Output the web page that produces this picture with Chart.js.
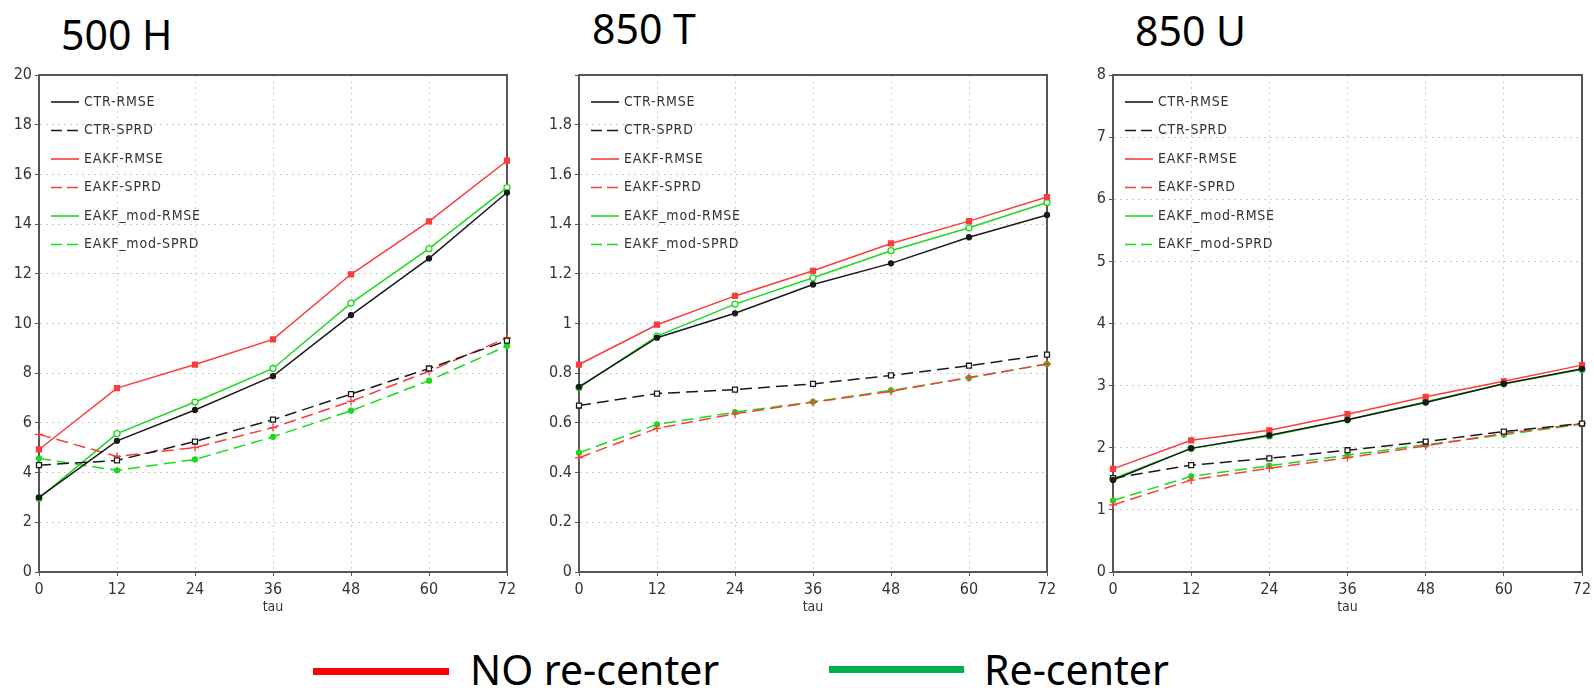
<!DOCTYPE html>
<html>
<head>
<meta charset="utf-8">
<script src="https://cdn.jsdelivr.net/npm/chart.js@4.4.1/dist/chart.umd.min.js"></script>
<style>
	body { margin: 0; width: 1594px; height: 688px; background: #fff; position: relative; overflow: hidden; font-family: "Noto Sans", sans-serif; }
	.title { position: absolute; font-size: 41px; line-height: 1; color: #000; white-space: nowrap; }
	.panel { position: absolute; top: 50px; }
	.key { position: absolute; height: 7px; }
	.keytext { position: absolute; font-size: 41px; line-height: 1; color: #000; white-space: nowrap; }
</style>
</head>
<body>
<div class="title" style="left:61px;top:14px">500 H</div>
<div class="title" style="left:592px;top:8px">850 T</div>
<div class="title" style="left:1135px;top:10px">850 U</div>

<div class="panel" style="left:0px"><canvas id="c500h" width="527" height="568"></canvas></div>
<div class="panel" style="left:540px"><canvas id="c850t" width="527" height="568"></canvas></div>
<div class="panel" style="left:1074px"><canvas id="c850u" width="528" height="568"></canvas></div>

<div class="key" style="left:313px;top:668px;width:136px;background:#ff0000"></div>
<div class="keytext" style="left:470px;top:649px">NO re-center</div>
<div class="key" style="left:829px;top:666px;width:135px;background:#00b050"></div>
<div class="keytext" style="left:984px;top:649px">Re-center</div>

<script>
	const tau = ["0", "12", "24", "36", "48", "60", "72"];
	const seriesNames = ["CTR-RMSE", "CTR-SPRD", "EAKF-RMSE", "EAKF-SPRD", "EAKF_mod-RMSE", "EAKF_mod-SPRD"];

	// 500 H
	const h500CtrRmse = [3.0, 5.28, 6.52, 7.88, 10.34, 12.62, 15.27];
	const h500CtrSprd = [4.3, 4.49, 5.25, 6.13, 7.16, 8.19, 9.31];
	const h500EakfRmse = [4.93, 7.4, 8.35, 9.36, 11.98, 14.11, 16.55];
	const h500EakfSprd = [5.54, 4.65, 5.01, 5.81, 6.87, 8.08, 9.42];
	const h500ModRmse = [2.97, 5.57, 6.84, 8.19, 10.82, 13.01, 15.47];
	const h500ModSprd = [4.57, 4.09, 4.53, 5.44, 6.49, 7.7, 9.1];

	// 850 T
	const t850CtrRmse = [0.745, 0.943, 1.041, 1.157, 1.242, 1.347, 1.437];
	const t850CtrSprd = [0.67, 0.718, 0.734, 0.757, 0.791, 0.83, 0.875];
	const t850EakfRmse = [0.835, 0.995, 1.111, 1.212, 1.322, 1.412, 1.509];
	const t850EakfSprd = [0.46, 0.578, 0.637, 0.683, 0.727, 0.783, 0.837];
	const t850ModRmse = [0.742, 0.949, 1.078, 1.184, 1.293, 1.385, 1.487];
	const t850ModSprd = [0.48, 0.594, 0.643, 0.685, 0.731, 0.781, 0.837];

	// 850 U
	const u850CtrRmse = [1.48, 1.99, 2.2, 2.45, 2.73, 3.03, 3.27];
	const u850CtrSprd = [1.51, 1.72, 1.83, 1.96, 2.1, 2.26, 2.39];
	const u850EakfRmse = [1.66, 2.12, 2.28, 2.54, 2.82, 3.07, 3.33];
	const u850EakfSprd = [1.08, 1.48, 1.67, 1.84, 2.03, 2.23, 2.39];
	const u850ModRmse = [1.5, 1.99, 2.19, 2.45, 2.74, 3.03, 3.26];
	const u850ModSprd = [1.15, 1.54, 1.71, 1.88, 2.05, 2.21, 2.38];

	const fontFamily = '"DejaVu Sans Condensed", "Liberation Sans Narrow", "DejaVu Sans", sans-serif';
	const black = "#1a1a1a";
	const red = "#fa3c3c";
	const green = "#1ed81e";
	const dash = [12, 6];

	const seriesStyle = [
		{ color: black, dash: [], point: "circle", fill: black, r: 2.5 },
		{ color: black, dash: dash, point: "rect", fill: "#fff", r: 3.5 },
		{ color: red, dash: [], point: "rect", fill: red, r: 3.5 },
		{ color: red, dash: dash, point: "cross", fill: red, r: 4 },
		{ color: green, dash: [], point: "circle", fill: "#fff", r: 3 },
		{ color: green, dash: dash, point: "circle", fill: green, r: 2.5 },
	];

	const panels = [
		{ id: "c500h", max: 20, step: 2, hideTop: false, series: [h500CtrRmse, h500CtrSprd, h500EakfRmse, h500EakfSprd, h500ModRmse, h500ModSprd] },
		{ id: "c850t", max: 2, step: 0.2, hideTop: true, series: [t850CtrRmse, t850CtrSprd, t850EakfRmse, t850EakfSprd, t850ModRmse, t850ModSprd] },
		{ id: "c850u", max: 8, step: 1, hideTop: false, series: [u850CtrRmse, u850CtrSprd, u850EakfRmse, u850EakfSprd, u850ModRmse, u850ModSprd] },
	];

	// box around the plot area
	const frame = {
		id: "frame",
		beforeDatasetsDraw(chart) {
			const { ctx, chartArea: a } = chart;
			ctx.save();
			ctx.strokeStyle = "#555";
			ctx.lineWidth = 2;
			ctx.strokeRect(a.left, a.top, a.right - a.left, a.bottom - a.top);
			ctx.restore();
		},
	};

	// GrADS style key in the upper left corner
	const insideLegend = {
		id: "insideLegend",
		afterDatasetsDraw(chart) {
			const { ctx, chartArea } = chart;
			ctx.save();
			ctx.font = "14px " + fontFamily;
			ctx.letterSpacing = "0.8px";
			ctx.textBaseline = "middle";
			ctx.fillStyle = "#333";
			chart.data.datasets.forEach((ds, i) => {
				const y = chartArea.top + 27 + i * 28.5;
				ctx.beginPath();
				ctx.setLineDash(ds.borderDash.length ? [11, 5] : []);
				ctx.strokeStyle = ds.borderColor;
				ctx.lineWidth = 1.6;
				ctx.moveTo(chartArea.left + 12, y);
				ctx.lineTo(chartArea.left + 40, y);
				ctx.stroke();
				ctx.setLineDash([]);
				ctx.fillText(ds.label, chartArea.left + 45, y);
			});
			ctx.restore();
		},
	};

	const gridOpts = { color: "#cdcdcd", lineWidth: 1, tickLength: 4, tickColor: "#555" };
	const borderOpts = { color: "#555", width: 2, dash: [2, 4] };
	const tickFont = { family: fontFamily, size: 16 };

	panels.forEach((p) => {
		const datasets = p.series.map((values, i) => {
			const s = seriesStyle[i];
			return {
				label: seriesNames[i],
				data: values,
				borderColor: s.color,
				borderDash: s.dash,
				borderWidth: 1.5,
				pointStyle: s.point,
				pointRadius: s.r,
				pointBackgroundColor: s.fill,
				pointBorderColor: s.color,
				pointBorderWidth: 1.3,
				tension: 0,
				fill: false,
			};
		});

		new Chart(document.getElementById(p.id), {
			type: "line",
			data: { labels: tau, datasets: datasets },
			options: {
				responsive: false,
				animation: false,
				layout: { padding: { top: 25, right: 20, bottom: 2, left: 0 } },
				plugins: {
					legend: { display: false },
					tooltip: { enabled: false },
				},
				scales: {
					x: {
						type: "category",
						offset: false,
						grid: gridOpts,
						border: borderOpts,
						ticks: { color: "#333", font: tickFont, padding: 4, maxRotation: 0, autoSkip: false },
						title: { display: true, text: "tau", color: "#333", font: { family: fontFamily, size: 14 }, padding: 0 },
						afterFit: (scale) => {
							scale.height = 44;
						},
					},
					y: {
						type: "linear",
						min: 0,
						max: p.max,
						grid: gridOpts,
						border: borderOpts,
						ticks: {
							stepSize: p.step,
							color: "#333",
							font: tickFont,
							padding: 3,
							callback: (value) => {
								if (p.hideTop && Math.abs(value - p.max) < 1e-6) return "";
								return String(parseFloat(value.toFixed(1)));
							},
						},
						afterFit: (scale) => {
							scale.width = 39;
						},
					},
				},
			},
			plugins: [frame, insideLegend],
		});
	});
</script>
</body>
</html>
